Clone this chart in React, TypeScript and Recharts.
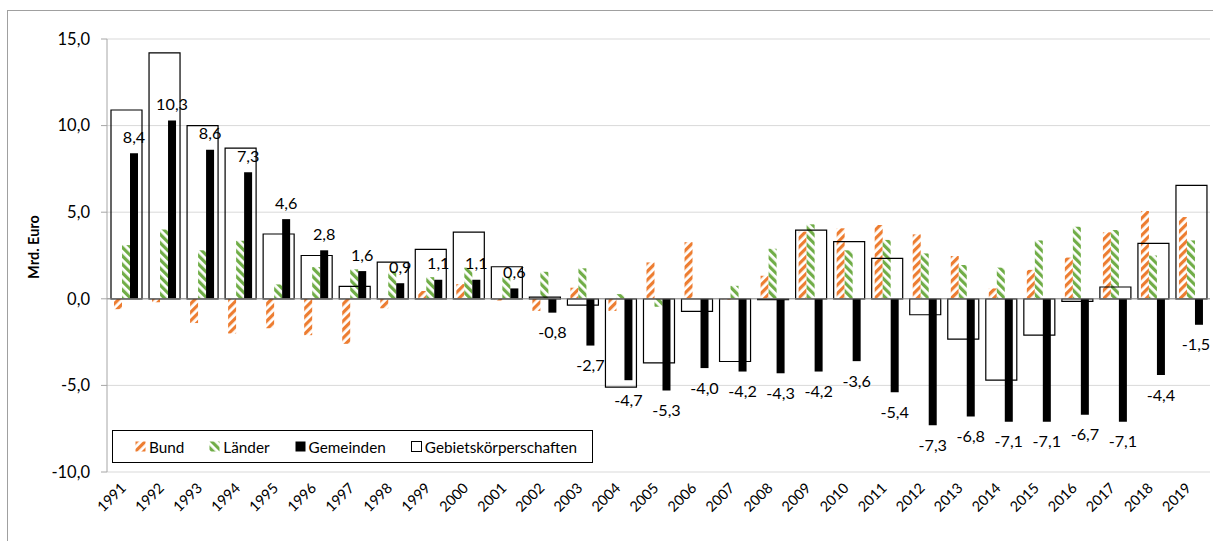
import React from 'react';
import { BarChart, Bar, XAxis, YAxis, CartesianGrid, ReferenceLine, LabelList, Legend, Label } from 'recharts';

const years = ['1991', '1992', '1993', '1994', '1995', '1996', '1997', '1998', '1999', '2000', '2001', '2002', '2003', '2004', '2005', '2006', '2007', '2008', '2009', '2010', '2011', '2012', '2013', '2014', '2015', '2016', '2017', '2018', '2019'];
const bund = [-0.6, -0.2, -1.4, -2.0, -1.7, -2.1, -2.6, -0.55, 0.45, 0.85, -0.1, -0.7, 0.64, -0.7, 2.1, 3.27, -0.05, 1.33, 3.88, 4.07, 4.26, 3.72, 2.47, 0.6, 1.67, 2.38, 3.84, 5.07, 4.72];
const laender = [3.1, 4.0, 2.8, 3.35, 0.83, 1.83, 1.7, 1.6, 1.25, 1.8, 1.27, 1.56, 1.76, 0.27, -0.46, 0.0, 0.75, 2.89, 4.3, 2.8, 3.4, 2.62, 1.95, 1.8, 3.37, 4.16, 3.97, 2.5, 3.37];
const gemeinden = [8.4, 10.3, 8.6, 7.3, 4.6, 2.8, 1.6, 0.9, 1.1, 1.1, 0.6, -0.8, -2.7, -4.7, -5.3, -4.0, -4.2, -4.3, -4.2, -3.6, -5.4, -7.3, -6.8, -7.1, -7.1, -6.7, -7.1, -4.4, -1.5];
const gebiets = [10.9, 14.2, 10.0, 8.7, 3.74, 2.5, 0.72, 2.12, 2.85, 3.85, 1.85, 0.1, -0.36, -5.1, -3.7, -0.73, -3.62, -0.05, 3.97, 3.3, 2.33, -0.92, -2.33, -4.7, -2.1, -0.15, 0.68, 3.2, 6.55];
const yTicks = [-10, -5, 0, 5, 10, 15];

const data = years.map((year, i) => ({
  year,
  bund: bund[i],
  laender: laender[i],
  gemeinden: gemeinden[i],
  gebiets: gebiets[i],
}));

const W = 1213;
const H = 541;
const ORANGE = '#ED7D31';
const GREEN = '#70AD47';
const FONT = 'Lato, sans-serif';

const fmt = (v: number) => v.toFixed(1).replace('.', ',');

// label above positive bars, below negative ones (kept inside the chart at the right edge)
const GemLabel = (props: any) => {
  const { x, y, width, height, value } = props;
  const top = Math.min(y, y + height);
  const bottom = Math.max(y, y + height);
  const cy = value >= 0 ? top - 17 : bottom + 19;
  const cx = Math.min(x + width / 2, W - 17);
  return (
    <text x={cx} y={cy} textAnchor="middle" dominantBaseline="central" fontSize={16.2} fill="#000" fontFamily={FONT}>
      {fmt(value)}
    </text>
  );
};

const YearTick = (props: any) => {
  const { x, y, payload } = props;
  const px = x + 1;
  const py = y + 17;
  return (
    <text x={px} y={py} textAnchor="end" fontSize={14.5} fill="#000" fontFamily={FONT} transform={`rotate(-45, ${px}, ${py})`}>
      {payload.value}
    </text>
  );
};

const Swatch = ({ fill }: { fill: string }) => (
  <svg width={11} height={11} style={{ display: 'block' }}>
    <rect x={0.5} y={0.5} width={10} height={10} fill={fill} stroke={fill === '#fff' ? '#000' : 'none'} />
  </svg>
);

const legendItems = [
  { name: 'Bund', fill: 'url(#bundHatch)' },
  { name: 'Länder', fill: 'url(#laenderHatch)' },
  { name: 'Gemeinden', fill: '#000' },
  { name: 'Gebietskörperschaften', fill: '#fff' },
];

const LegendBox = () => (
  <div style={{ display: 'flex', alignItems: 'center', height: 31, border: '1px solid #000', paddingLeft: 22, background: '#fff', fontFamily: FONT, fontSize: 15.3, color: '#000' }}>
    {legendItems.map((it) => (
      <div key={it.name} style={{ display: 'flex', alignItems: 'center', marginRight: 25 }}>
        <Swatch fill={it.fill} />
        <span style={{ marginLeft: 3 }}>{it.name}</span>
      </div>
    ))}
  </div>
);

export default function App() {
  return (
    <div style={{ position: 'relative', width: W, height: H, fontFamily: FONT, overflow: 'hidden' }}>
      <style>{'html, body { margin: 0; padding: 0; overflow: hidden; }'}</style>
      <div style={{ position: 'absolute', left: 7, top: 10, width: W, height: H, borderTop: '1px solid #A0A0A0', borderLeft: '1px solid #A0A0A0', pointerEvents: 'none' }} />
      <BarChart width={W} height={H} data={data} margin={{ top: 39, right: 3, bottom: 9, left: 37 }} barGap={0}>
        <defs>
          <pattern id="bundHatch" patternUnits="userSpaceOnUse" width={6} height={6} patternTransform="rotate(45)">
            <rect width={6} height={6} fill="#fff" />
            <rect width={3.2} height={6} fill={ORANGE} />
          </pattern>
          <pattern id="laenderHatch" patternUnits="userSpaceOnUse" width={6} height={6} patternTransform="rotate(-45)">
            <rect width={6} height={6} fill="#fff" />
            <rect width={3.2} height={6} fill={GREEN} />
          </pattern>
        </defs>
        <CartesianGrid xAxisId="main" vertical={false} stroke="#D9D9D9" />
        <XAxis xAxisId="main" dataKey="year" height={60} axisLine={false} tickLine={false} tickSize={0} tickMargin={0} interval={0} tick={<YearTick />} />
        <XAxis xAxisId="total" dataKey="year" hide />
        <YAxis
          domain={[-10, 15]}
          ticks={yTicks}
          width={70}
          tickFormatter={fmt}
          axisLine={{ stroke: '#A6A6A6' }}
          tickLine={{ stroke: '#A6A6A6' }}
          tickSize={6}
          tickMargin={11}
          tick={{ fill: '#000', fontSize: 16.5, fontFamily: FONT }}
        >
          <Label
            content={() => (
              <text x={33} y={247} transform="rotate(-90, 33, 247)" textAnchor="middle" dominantBaseline="central" fontSize={14.5} fontWeight="bold" fill="#000" fontFamily={FONT}>
                Mrd. Euro
              </text>
            )}
          />
        </YAxis>
        <ReferenceLine xAxisId="main" y={0} stroke="#898989" strokeWidth={1} />
        <Bar xAxisId="main" dataKey="bund" name="Bund" fill="url(#bundHatch)" barSize={8} isAnimationActive={false} />
        <Bar xAxisId="main" dataKey="laender" name="Länder" fill="url(#laenderHatch)" barSize={8} isAnimationActive={false} />
        <Bar xAxisId="main" dataKey="gemeinden" name="Gemeinden" fill="#000" barSize={8} isAnimationActive={false}>
          <LabelList dataKey="gemeinden" content={<GemLabel />} />
        </Bar>
        <Bar xAxisId="total" dataKey="gebiets" name="Gebietskörperschaften" fill="none" stroke="#000" strokeWidth={1.2} barSize={31} isAnimationActive={false} />
        <Legend
          verticalAlign="middle"
          align="center"
          layout="horizontal"
          content={<LegendBox />}
          wrapperStyle={{ left: 112, top: 430, width: 481, height: 33 }}
        />
      </BarChart>
    </div>
  );
}
